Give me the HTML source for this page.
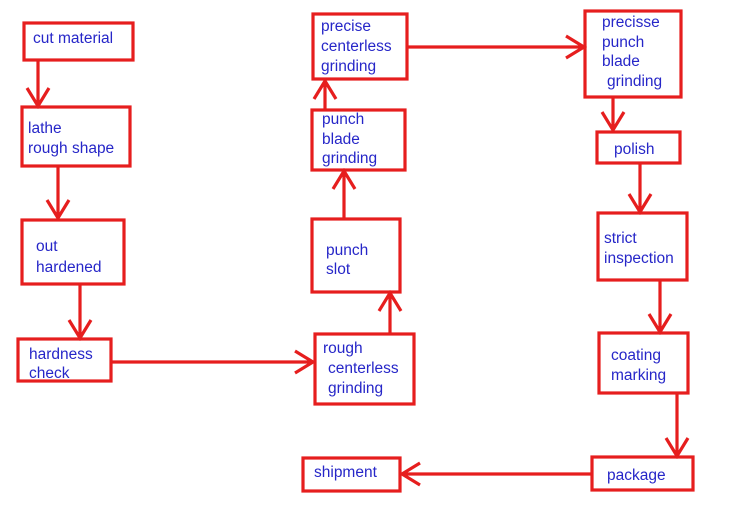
<!DOCTYPE html>
<html><head><meta charset="utf-8"><style>
html,body{margin:0;padding:0;background:#fff;}
svg{display:block}
text{font-family:"Liberation Sans",Arial,sans-serif;font-size:15.5px;fill:#2626c8;}
</style></head><body>
<svg width="750" height="516" viewBox="0 0 750 516" xmlns="http://www.w3.org/2000/svg">
<g fill="none" stroke="#e61e1e" stroke-width="3.2">
<rect x="24" y="23" width="109" height="37"/>
<rect x="22" y="107" width="108" height="59"/>
<rect x="22" y="220" width="102" height="64"/>
<rect x="18" y="339" width="93" height="42"/>
<rect x="315" y="334" width="99" height="70"/>
<rect x="312" y="219" width="88" height="73"/>
<rect x="312" y="110" width="93" height="60"/>
<rect x="313" y="14" width="94" height="65"/>
<rect x="585" y="11" width="96" height="86"/>
<rect x="597" y="132" width="83" height="31"/>
<rect x="598" y="213" width="89" height="67"/>
<rect x="599" y="333" width="89" height="60"/>
<rect x="592" y="457" width="101" height="33"/>
<rect x="303" y="458" width="97" height="33"/>
<path d="M38 60V106 M27 88L38 106L49 88"/>
<path d="M58 166V218 M47 200L58 218L69 200"/>
<path d="M80 284V338 M69 320L80 338L91 320"/>
<path d="M111 362H313 M295 351L313 362L295 373"/>
<path d="M390 334V293 M379 311L390 293L401 311"/>
<path d="M344 219V171 M333 189L344 171L355 189"/>
<path d="M325 110V81 M314 99L325 81L336 99"/>
<path d="M407 47H584 M566 36L584 47L566 58"/>
<path d="M613 97V130 M602 112L613 130L624 112"/>
<path d="M640 163V212 M629 194L640 212L651 194"/>
<path d="M660 280V332 M649 314L660 332L671 314"/>
<path d="M677 393V456 M666 438L677 456L688 438"/>
<path d="M592 474H402 M420 463L402 474L420 485"/>
</g>
<text x="33" y="43">cut material</text>
<text x="28" y="133">lathe</text>
<text x="28" y="153">rough shape</text>
<text x="36" y="251">out</text>
<text x="36" y="272">hardened</text>
<text x="29" y="359">hardness</text>
<text x="29" y="378">check</text>
<text x="323" y="353">rough</text>
<text x="328" y="373">centerless</text>
<text x="328" y="393">grinding</text>
<text x="326" y="255">punch</text>
<text x="326" y="274">slot</text>
<text x="322" y="124">punch</text>
<text x="322" y="144">blade</text>
<text x="322" y="163">grinding</text>
<text x="321" y="31">precise</text>
<text x="321" y="51">centerless</text>
<text x="321" y="71">grinding</text>
<text x="602" y="27">precisse</text>
<text x="602" y="47">punch</text>
<text x="602" y="66">blade</text>
<text x="607" y="86">grinding</text>
<text x="614" y="154">polish</text>
<text x="604" y="243">strict</text>
<text x="604" y="263">inspection</text>
<text x="611" y="360">coating</text>
<text x="611" y="380">marking</text>
<text x="607" y="480">package</text>
<text x="314" y="477">shipment</text>
</svg>
</body></html>
